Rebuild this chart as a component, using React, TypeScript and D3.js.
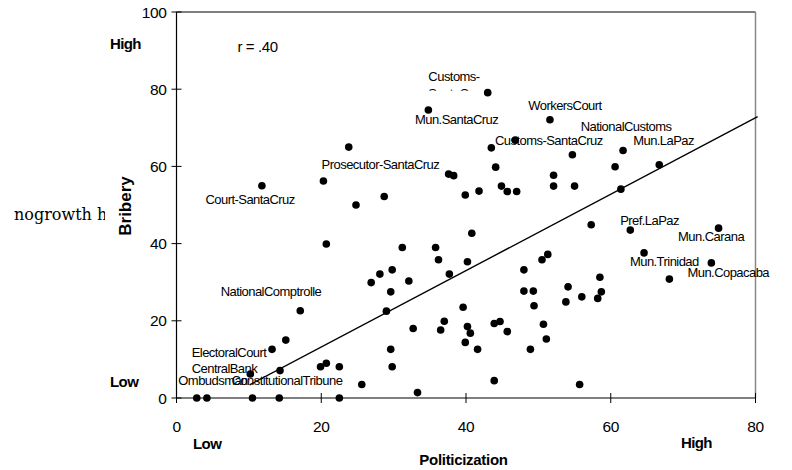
import * as d3 from 'd3';

// politicization (x) vs bribery (y)
const pointsX = [
	11.8, 23.8, 20.3, 24.8, 28.7, 37.6, 38.3, 39.9, 41.8, 40.8,
	34.8, 43.0, 51.6, 43.5, 46.8, 54.7, 44.1, 52.1, 52.1, 55.0,
	44.9, 45.7, 47.0, 60.6, 61.7, 66.7, 61.4, 57.3, 62.7, 74.9,
	64.6, 73.9, 68.1, 40.2, 48.0, 50.5, 51.3, 58.5, 54.1, 48.0,
	49.3, 56.0, 49.4, 53.8, 58.7, 58.2, 39.6, 40.2, 40.6, 39.9,
	41.6, 43.9, 44.7, 45.7, 50.7, 51.1, 48.9, 43.9, 55.7, 20.7,
	31.2, 35.8, 36.2, 37.7, 29.8, 28.1, 26.9, 32.1, 29.6, 29.0,
	17.1, 37.0, 36.5, 32.7, 15.1, 13.2, 29.6, 19.9, 20.7, 22.5,
	29.8, 14.3, 10.2, 25.6, 33.3, 2.8, 4.2, 10.5, 14.2, 22.5,
];
const pointsY = [
	55.0, 65.0, 56.2, 50.0, 52.2, 58.0, 57.6, 52.6, 53.6, 42.7,
	74.6, 79.1, 72.1, 64.8, 66.8, 63.0, 59.8, 57.7, 54.9, 54.9,
	54.9, 53.5, 53.5, 59.9, 64.1, 60.4, 54.1, 44.9, 43.5, 44.0,
	37.6, 35.0, 30.8, 35.3, 33.2, 35.8, 37.2, 31.3, 28.8, 27.7,
	27.7, 26.2, 23.9, 24.9, 27.5, 25.8, 23.5, 18.5, 16.8, 14.4,
	12.6, 19.3, 19.8, 17.2, 19.1, 15.3, 12.6, 4.5, 3.5, 39.9,
	39.0, 39.0, 35.8, 32.1, 33.2, 32.1, 29.9, 30.3, 27.5, 22.5,
	22.6, 19.9, 17.6, 18.0, 15.0, 12.6, 12.6, 8.1, 9.0, 8.1,
	8.1, 7.1, 6.2, 3.5, 1.4, 0, 0, 0, 0, 0,
];

// point labels: text and where the text starts (data units)
const labelText = [
	'Customs-', 'Mun.SantaCruz', 'WorkersCourt', 'Customs-SantaCruz',
	'NationalCustoms', 'Mun.LaPaz', 'Pref.LaPaz', 'Mun.Carana',
	'Mun.Trinidad', 'Mun.Copacaba', 'Prosecutor-SantaCruz', 'Court-SantaCruz',
	'NationalComptrolle', 'ElectoralCourt', 'CentralBank', 'Ombudsman',
	'ConstitutionalTribune',
];
const labelX = [
	34.8, 32.95, 48.6, 44.0, 55.85, 63.1, 61.3, 69.3, 62.65, 70.6,
	20.05, 4.0, 6.1, 2.1, 2.1, 0.25, 7.6,
];
const labelY = [
	82.1, 71.0, 74.6, 65.5, 69.25, 65.5, 44.8, 40.7, 34.3, 31.3,
	59.25, 50.3, 26.5, 10.7, 6.4, 3.4, 3.4,
];

// fitted line
const fitX = [10.1, 80.3];
const fitY = [3.4, 72.9];

const xTicks = [0, 20, 40, 60, 80];
const yTicks = [0, 20, 40, 60, 80, 100];

const W = 792;
const H = 470;
const SANS = '"Liberation Sans", Arial, sans-serif';

export default function App() {
	const x = d3.scaleLinear().domain([0, 80]).range([176.5, 755.5]);
	const y = d3.scaleLinear().domain([0, 100]).range([398, 12]);
	const fitLine = d3
		.line<number>()
		.x((d) => x(fitX[d]))
		.y((d) => y(fitY[d]));

	const customsTop = y(labelY[0]);

	return (
		<svg
			width={W}
			height={H}
			style={{ position: 'absolute', left: 0, top: 0, background: '#fff' }}
		>
			<defs>
				<clipPath id="stray-clip">
					<rect x={0} y={0} width={105} height={H} />
				</clipPath>
				<clipPath id="customs-clip">
					<rect x={x(30)} y={customsTop + 7.6} width={80} height={2} />
				</clipPath>
			</defs>

			{/* stray page text, cut off by the chart */}
			<text
				x={14}
				y={219.5}
				fontFamily='"DejaVu Serif", serif'
				fontSize={16}
				clipPath="url(#stray-clip)"
			>
				nogrowth h
			</text>

			{/* frame */}
			<line x1={x(0)} x2={x(80)} y1={y(100)} y2={y(100)} stroke="#000" strokeWidth={1.2} />
			<line x1={x(80)} x2={x(80)} y1={y(100)} y2={y(0)} stroke="#888" strokeWidth={1.5} />

			{/* axes */}
			<line x1={x(0)} x2={x(80)} y1={y(0)} y2={y(0)} stroke="#000" strokeWidth={1.2} />
			<line x1={x(0)} x2={x(0)} y1={y(100)} y2={y(0)} stroke="#000" strokeWidth={1.2} />
			{xTicks.map((t) => (
				<g key={'xt' + t}>
					<line x1={x(t)} x2={x(t)} y1={y(0) - 5} y2={y(0) + 5} stroke="#000" />
					<text
						x={x(t)}
						y={432}
						textAnchor="middle"
						fontFamily={SANS}
						fontSize={15.5}
						letterSpacing={-0.4}
					>
						{t}
					</text>
				</g>
			))}
			{yTicks.map((t) => (
				<g key={'yt' + t}>
					<line x1={x(0) - 5} x2={x(0) + 5} y1={y(t)} y2={y(t)} stroke="#000" />
					<text
						x={166.5}
						y={y(t)}
						dy="0.36em"
						textAnchor="end"
						fontFamily={SANS}
						fontSize={15.5}
						letterSpacing={-0.4}
					>
						{t}
					</text>
				</g>
			))}

			{/* axis titles */}
			<text
				transform={`translate(131,${206}) rotate(-90)`}
				textAnchor="middle"
				fontFamily={SANS}
				fontSize={17}
				fontWeight="bold"
			>
				Bribery
			</text>
			<text
				x={463.5}
				y={465}
				textAnchor="middle"
				fontFamily={SANS}
				fontSize={15}
				fontWeight="bold"
				letterSpacing={-0.3}
			>
				Politicization
			</text>
			<g fontFamily={SANS} fontSize={15} fontWeight="bold" letterSpacing={-0.6}>
				<text x={110} y={48.5}>High</text>
				<text x={110} y={387}>Low</text>
				<text x={193} y={449}>Low</text>
				<text x={681} y={448}>High</text>
			</g>

			<text x={237.5} y={51.5} fontFamily={SANS} fontSize={15} letterSpacing={-0.4}>
				r = .40
			</text>

			{/* fit line */}
			<path d={fitLine([0, 1]) ?? ''} fill="none" stroke="#000" strokeWidth={1.4} />

			{/* points */}
			{pointsX.map((px, i) => (
				<circle key={'p' + i} cx={x(px)} cy={y(pointsY[i])} r={3.8} fill="#000" />
			))}

			{/* labels */}
			<g fontFamily={SANS} fontSize={13} letterSpacing={-0.55} fill="#000">
				{labelText.map((t, i) => (
					<text key={'l' + i} x={x(labelX[i])} y={y(labelY[i])}>
						{t}
					</text>
				))}
				<text
					x={x(labelX[0])}
					y={customsTop + 17}
					clipPath="url(#customs-clip)"
				>
					SantaCruz
				</text>
			</g>
		</svg>
	);
}
